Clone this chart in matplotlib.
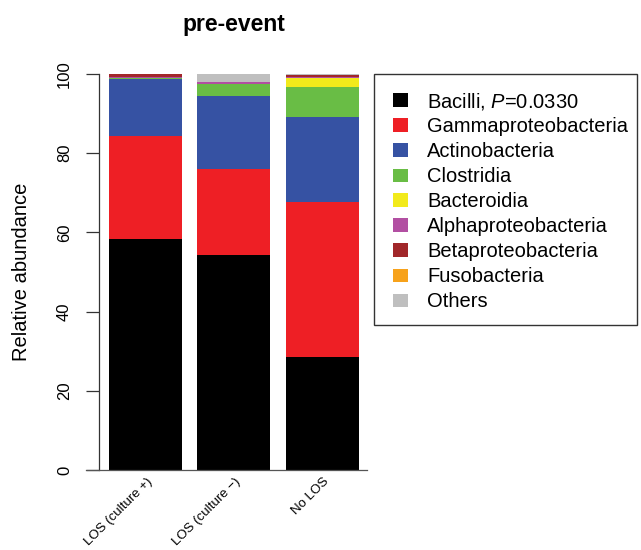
import matplotlib
matplotlib.use("Agg")
import matplotlib.pyplot as plt
from matplotlib.patches import Rectangle
import numpy as np

plt.rcParams['font.family'] = ['Liberation Sans', 'DejaVu Sans']
plt.rcParams['mathtext.fontset'] = 'custom'
plt.rcParams['mathtext.rm'] = 'Liberation Sans'
plt.rcParams['mathtext.it'] = 'Liberation Sans:italic'

groups = ["LOS (culture +)", "LOS (culture \u2212)", "No LOS"]
taxa = ["Bacilli", "Gammaproteobacteria", "Actinobacteria", "Clostridia",
        "Bacteroidia", "Alphaproteobacteria", "Betaproteobacteria",
        "Fusobacteria", "Others"]
legend_labels = [r"Bacilli, $\mathit{P}$=0.0330"] + taxa[1:]
colors = ["#000000", "#EE1F25", "#3652A3", "#69BD45", "#F2EA1B",
          "#B24FA2", "#A1272A", "#F7A21B", "#BFBFBF"]

# abundance (%) per taxon, for each group
bacilli       = [58.3, 54.3, 28.6]
gammaproteo   = [26.1, 21.6, 39.0]
actino        = [14.4, 18.6, 21.5]
clostridia    = [0.3, 3.0, 7.7]
bacteroidia   = [0.0, 0.0, 2.1]
alphaproteo   = [0.1, 0.5, 0.3]
betaproteo    = [0.7, 0.0, 0.5]
fuso          = [0.0, 0.0, 0.1]
others        = [0.1, 2.0, 0.2]
values = [bacilli, gammaproteo, actino, clostridia, bacteroidia,
          alphaproteo, betaproteo, fuso, others]

W, H = 641, 550
fig = plt.figure(figsize=(W / 100, H / 100), dpi=100)
ax = fig.add_axes([86 / W, 1 - 470 / H, (367 - 86) / W, (470 - 74) / H])

x = np.arange(len(groups))
bottom = np.zeros(len(groups))
for vals, c in zip(values, colors):
    ax.bar(x, vals, width=0.825, bottom=bottom, color=c, linewidth=0,
           clip_on=False)
    bottom += np.array(vals)

ax.set_xlim(-0.672, 2.503)
ax.set_ylim(0, 100)

for s in ["top", "right"]:
    ax.spines[s].set_visible(False)
ax.spines["left"].set_position(("data", -0.525))
ax.spines["left"].set_bounds(0, 100)
ax.spines["left"].set_color("#333333")
ax.spines["bottom"].set_color("#555555")
ax.spines["left"].set_linewidth(0.9)
ax.spines["bottom"].set_linewidth(0.9)

ax.set_yticks([0, 20, 40, 60, 80, 100])
ax.tick_params(axis="y", direction="out", length=9.4, width=0.9,
               color="#333333", labelsize=12, pad=10)
for lab in ax.get_yticklabels():
    lab.set_rotation(90)
    lab.set_va("center")
    lab.set_ha("right")
ax.set_xticks([])

for xi, g in zip(x, groups):
    ax.annotate(g, xy=(xi, 0), xycoords=("data", "axes fraction"),
                xytext=(5, -10), textcoords="offset pixels",
                rotation=45, rotation_mode="anchor", ha="right", va="center",
                fontsize=9.5)

fig.text(22 / W, 1 - 272 / H, "Relative abundance", rotation=90,
         ha="center", va="center", fontsize=14.5)
fig.text(234 / W, 1 - 31 / H, "pre-event", ha="center", va="baseline",
         fontsize=16.5, fontweight="bold")

# legend box
fig.patches.append(Rectangle((374 / W, 1 - 325 / H), (637 - 374) / W,
                             (325 - 74) / H, transform=fig.transFigure,
                             fill=False, edgecolor="#333333", linewidth=1.0))
for i, (lab, c) in enumerate(zip(legend_labels, colors)):
    yc = 100 + 25 * i
    fig.patches.append(Rectangle((393 / W, 1 - (yc + 6.5) / H), 15 / W,
                                 13 / H, transform=fig.transFigure,
                                 facecolor=c, edgecolor="none"))
    fig.text(427 / W, 1 - (yc + 7.2) / H, lab, ha="left", va="baseline",
             fontsize=14.5)

fig.savefig("out.png", dpi=100)
